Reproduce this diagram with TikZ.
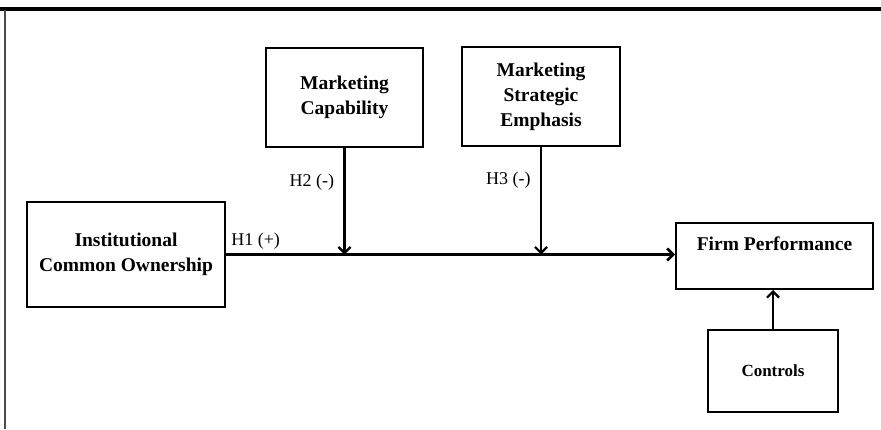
\documentclass[tikz,border=0pt]{standalone}
\usepackage{fontspec}
\setmainfont{Liberation Serif}
\usetikzlibrary{arrows.meta}

\begin{document}
\begin{tikzpicture}[x=1pt, y=-1pt, >={Straight Barb[length=6pt,width=12pt]},
    box/.style={draw, line width=2pt, align=center, inner sep=0pt,
        font=\fontsize{19.5}{25}\selectfont\bfseries},
    hyp/.style={font=\fontsize{18}{20}\selectfont},
    link/.style={->, line width=2.2pt}]
                \useasboundingbox (0,0) rectangle (881,429);
                \draw[line width=3.2pt] (0,9) -- (881,9);
                \draw[line width=1.4pt, black!70] (5,10) -- (5,429);

                \node[box, minimum width=198, minimum height=105] (inst) at (126,254.5) {Institutional\\Common Ownership};
                \node[box, minimum width=157, minimum height=99] (mcap) at (344.5,97.5) {Marketing\\Capability};
                \node[box, minimum width=158, minimum height=99] (mse) at (541,96.5) {Marketing\\Strategic\\Emphasis};
                \node[box, minimum width=197, minimum height=66] (perf) at (774.5,256) {Firm Performance\\\mbox{}};
                \node[box, minimum width=130, minimum height=82, font=\fontsize{17}{20}\selectfont\bfseries] (ctrl) at (773,371) {Controls};

                \draw[link, line width=2.6pt] (inst.east) -- (inst.east -| perf.west)
                    node[pos=0, above right, hyp, inner sep=4pt] (h1) {H1 (+)};
                \draw[link] (mcap.south) -- (mcap.south |- inst.east)
                    node[pos=0.32, left=6pt, hyp] (h2) {H2 (-)};
                \draw[link] (mse.south) -- (mse.south |- inst.east)
                    node[pos=0.31, left=6pt, hyp] (h3) {H3 (-)};
                \draw[link] (ctrl.north) -- (ctrl.north |- perf.south);
            \end{tikzpicture}
\end{document}
